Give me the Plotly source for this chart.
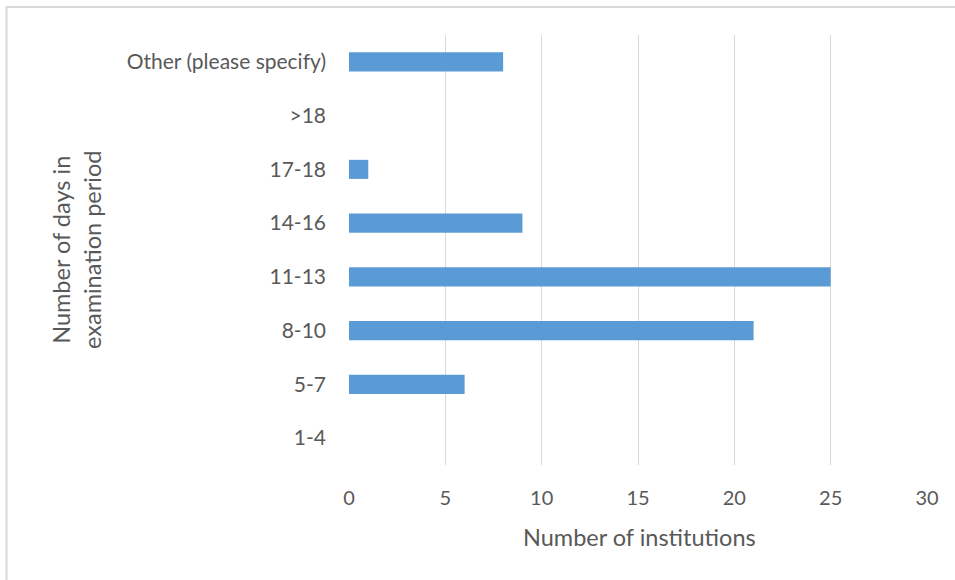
import plotly.graph_objects as go

categories = ["1-4", "5-7", "8-10", "11-13", "14-16", "17-18", ">18", "Other (please specify)"]
values = [0, 6, 21, 25, 9, 1, 0, 8]
x_ticks = [0, 5, 10, 15, 20, 25, 30]

W, H = 955, 580
L, R, T, B = 349, 28, 35, 115
pw, ph = W - L - R, H - T - B

fig = go.Figure(go.Bar(
    x=values, y=categories, orientation="h",
    marker=dict(color="#5B9BD5", line=dict(width=0)),
))

font = "Lato, Open Sans, sans-serif"
gray = "#595959"

def px(xp):
    return (xp - L) / pw
def py(yp):
    return (H - B - yp) / ph

fig.update_layout(
    width=W, height=H,
    margin=dict(l=L, r=R, t=T, b=B),
    paper_bgcolor="white", plot_bgcolor="white",
    bargap=0.645,
    showlegend=False,
    font=dict(family=font, color=gray, size=19),
    xaxis=dict(
        range=[0, 30], tickvals=x_ticks, showgrid=True, gridcolor="#D9D9D9", gridwidth=1,
        zeroline=False, showline=False, ticks="", tickfont=dict(size=20, color=gray),
        ticklabelstandoff=19,
    ),
    yaxis=dict(
        categoryorder="array", categoryarray=categories, showgrid=False, zeroline=False,
        showline=False, ticks="", tickfont=dict(size=21, color=gray), ticklabelstandoff=22,
    ),
    annotations=[
        dict(text="Number of institutions", xref="paper", yref="paper",
             x=px(639), y=py(537), showarrow=False, xanchor="center", yanchor="middle",
             font=dict(size=23.5, color=gray)),
        dict(text="Number of days in<br>examination period", xref="paper", yref="paper",
             x=px(76), y=py(250), showarrow=False, xanchor="center", yanchor="middle",
             textangle=-90, font=dict(size=23.5, color=gray)),
    ],
)

fig.add_shape(type="rect", xref="paper", yref="paper",
              x0=px(6.5), x1=px(W + 10), y0=py(7), y1=py(H + 10),
              line=dict(color="#D9D9D9", width=2), layer="below")

fig.write_html("out.html")
